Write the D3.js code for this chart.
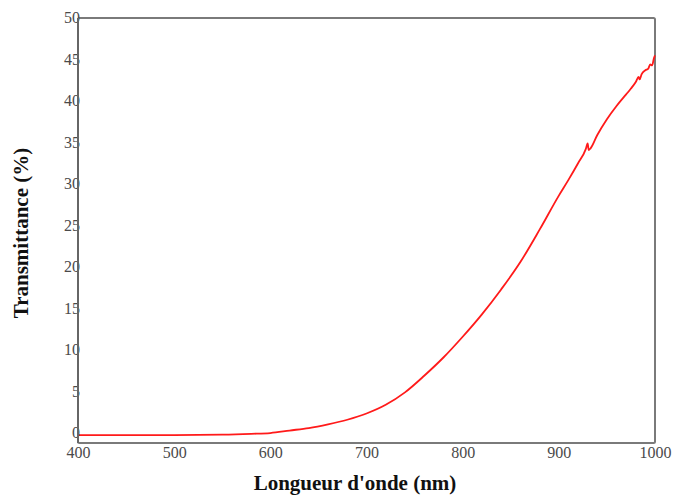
<!DOCTYPE html>
<html><head><meta charset="utf-8">
<script src="https://cdn.jsdelivr.net/npm/d3@7"></script>
<style>body{margin:0;background:#fff}svg{display:block}</style>
</head><body>
<script>
const wavelengths = [400,450,500,550,580,600,620,640,660,680,700,720,740,760,780,800,820,840,860,880,900,910,920,928,930,931,933,940,950,960,970,975,980,983,984,986,990,993,995,997,999,1000];
const transmittance = [-0.25,-0.25,-0.25,-0.2,-0.1,0.0,0.3,0.6,1.05,1.6,2.35,3.4,4.9,6.9,9.1,11.6,14.3,17.3,20.6,24.5,28.6,30.5,32.5,34.2,34.9,34.1,34.3,35.9,37.8,39.4,40.8,41.5,42.3,42.9,42.6,43.2,43.7,43.9,44.4,44.3,45.2,45.5];
const xTicks = [400,500,600,700,800,900,1000];
const yTicks = [0,5,10,15,20,25,30,35,40,45,50];
const xTitle = "Longueur d'onde (nm)";
const yTitle = "Transmittance (%)";

const W = 674, H = 497;
const m = {left:78, right:655, top:18, bottom:443};
const svg = d3.select("body").append("svg").attr("width",W).attr("height",H);
const x = d3.scaleLinear().domain([400,1000]).range([m.left,m.right]);
const y = d3.scaleLinear().domain([-1.2,50]).range([m.bottom,m.top]);

const data = wavelengths.map((w,i)=>({w, t:transmittance[i]}));

// frame
svg.append("rect").attr("x",m.left).attr("y",m.top).attr("width",m.right-m.left).attr("height",m.bottom-m.top)
  .attr("fill","none").attr("stroke","#7a7a7a").attr("stroke-width",2).attr("rx",1.5);

// curve
svg.append("path").datum(data)
  .attr("d", d3.line().curve(d3.curveMonotoneX).x(d=>x(d.w)).y(d=>y(d.t)))
  .attr("fill","none").attr("stroke","#ff1a1a").attr("stroke-width",1.8).attr("stroke-linejoin","round");

// axes
const xAxis = svg.append("g").attr("transform",`translate(0,${m.bottom})`)
  .call(d3.axisBottom(x).tickValues(xTicks).tickSize(0).tickPadding(2).tickFormat(d3.format("d")));
const yAxis = svg.append("g").attr("transform",`translate(${m.left+2},0)`)
  .call(d3.axisLeft(y).tickValues(yTicks).tickSize(0).tickPadding(0).tickFormat(d3.format("d")));
[xAxis,yAxis].forEach(g=>{
  g.select(".domain").remove();
  g.selectAll("text").attr("font-family","'Liberation Serif', 'Times New Roman', serif")
    .attr("font-size",16).attr("fill","#4a4a4a");
});
xAxis.selectAll("text").attr("dy","0.82em");
yAxis.selectAll("text").attr("dy","0.3em");

// left axis darker line
svg.append("line").attr("x1",m.left).attr("x2",m.left).attr("y1",m.top).attr("y2",m.bottom)
  .attr("stroke","#666").attr("stroke-width",2);

// titles
svg.append("text").attr("x",355).attr("y",490).attr("text-anchor","middle")
  .attr("font-family","'Liberation Serif', 'Times New Roman', serif").attr("font-weight","bold")
  .attr("font-size",21).attr("fill","#111").text(xTitle);
svg.append("text").attr("transform","translate(28,233) rotate(-90)").attr("text-anchor","middle")
  .attr("font-family","'Liberation Serif', 'Times New Roman', serif").attr("font-weight","bold")
  .attr("font-size",21).attr("fill","#111").text(yTitle);
</script>
</body></html>
